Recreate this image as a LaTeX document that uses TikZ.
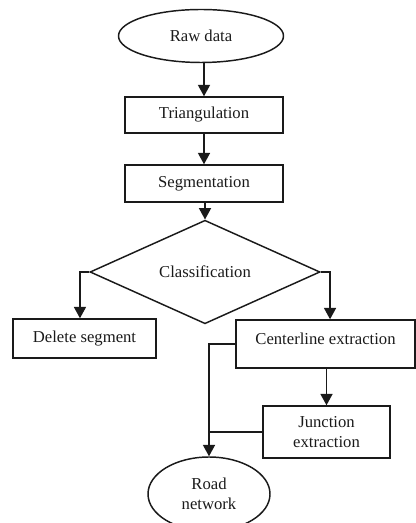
\documentclass[tikz,border=0pt]{standalone}
\usepackage{fontspec}
\setmainfont{Liberation Serif}
\usepackage{xcolor}
\usepackage{tikz}
\usetikzlibrary{shapes.geometric,arrows.meta}
\definecolor{ink}{HTML}{1A1A1A}
\tikzset{
  line/.style={draw=ink, line width=1.1pt},
  arr/.style={line, -{Triangle[length=8.5pt,width=9pt]}},
  box/.style={line, rectangle, inner sep=0pt, text=ink, align=center},
  term/.style={line, ellipse, inner sep=0pt, text=ink, align=center},
  decide/.style={line, diamond, inner sep=0pt, text=ink}
}

\begin{document}
\begin{tikzpicture}[x=0.75pt, y=-0.75pt, every node/.style={font=\fontsize{12.5}{15}\selectfont}]
  \useasboundingbox (0,0) rectangle (416,523);
  \node[term, minimum width=123.75pt, minimum height=39.75pt] (raw) at (201,36) {Raw data};
  \node[box, minimum width=118.5pt, minimum height=27pt] (tri) at (204,115) {Triangulation};
  \node[box, minimum width=118.5pt, minimum height=27.75pt] (seg) at (204,183.5) {Segmentation};
  \node[decide, minimum width=172.5pt, minimum height=55.5pt] (cls) at (205,272) {Classification};
  \node[box, minimum width=107.25pt, minimum height=29.25pt] (del) at (84.5,338.5) {Delete segment};
  \node[box, anchor=base, minimum width=134.25pt, text height=18pt, text depth=18pt] (cen) at (325.5,344) {Centerline extraction};
  \node[box, minimum width=95.25pt, minimum height=39pt] (jun) at (326.5,432) {Junction\\extraction};
  \node[term, minimum width=91.5pt, minimum height=55.5pt] (road) at (209,494) {Road\\network};
  % main chain
  \draw[arr] (tri.north |- raw.south) -- (tri.north);
  \draw[arr] (tri.south) -- (seg.north);
  \draw[arr] (cls.north |- seg.south) -- (cls.north);
  % branches
  \draw[arr] (cls.west) -| ([xshift=-3.4pt]del.north);
  \draw[arr] (cls.east) -| ([xshift=3.4pt]cen.north);
  \draw[arr] (jun.north |- cen.south) -- (jun.north);
  \draw[arr] (cen.west) -| (road.north);
  \draw[line] (jun.west) -- (jun.west -| road.north);
\end{tikzpicture}
\end{document}
